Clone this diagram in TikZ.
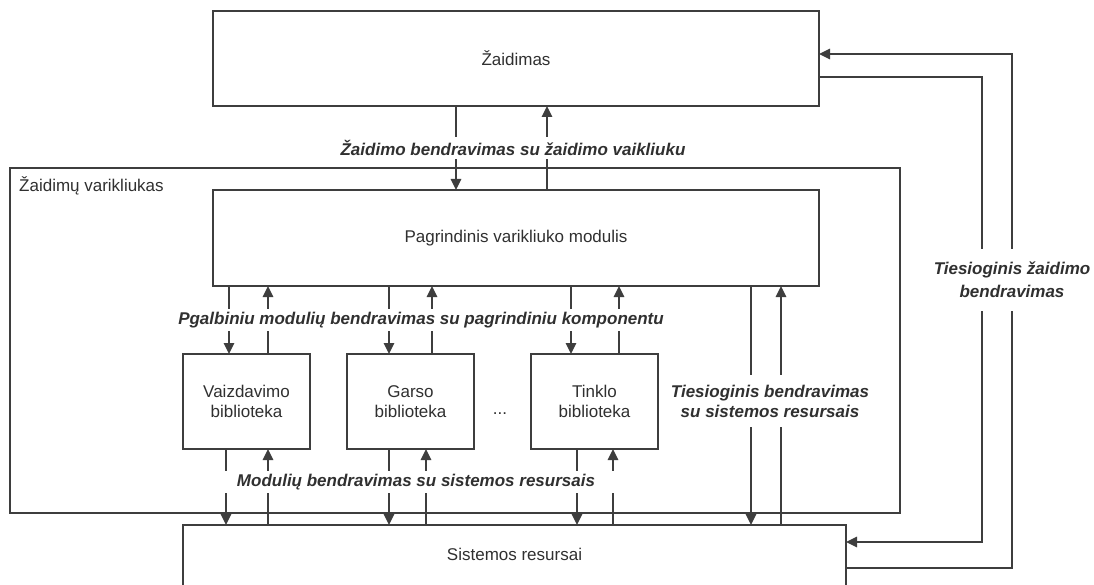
\documentclass[tikz,border=0pt]{standalone}
\usepackage{fontspec}
\setmainfont{Liberation Sans}
\usetikzlibrary{arrows.meta}
\definecolor{ink}{HTML}{3E3E3E}
\definecolor{txt}{HTML}{303030}
\begin{document}
\begin{tikzpicture}[x=1pt,y=-1pt,
  every node/.style={font=\fontsize{17}{20}\selectfont, text=txt},
  box/.style={draw=ink, line width=1.5pt, fill=white, outer sep=0pt, inner sep=0pt, align=center},
  link/.style={draw=ink, line width=1.5pt},
  arr/.style={link, -{Triangle[length=11pt,width=10.5pt]}},
  tag/.style={font=\fontsize{17}{20}\selectfont\bfseries\itshape, fill=white,
              inner xsep=20pt, inner ysep=3pt, align=center}
]
\useasboundingbox (0,0) rectangle (1094,585);
\fill[white] (0,0) rectangle (1094,585);
\begin{scope}
\clip (0,0) rectangle (1094,585);

% engine frame and its title
\node[box, minimum width=890pt, minimum height=345pt] (engine) at (455,340.5) {};
\node[anchor=base west, inner sep=0pt] (enginetitle) at (19,192) {Žaidimų varikliukas};

% blocks
\node[box, minimum width=606pt, minimum height=95pt] (game) at (516,58.5) {Žaidimas};
\node[box, minimum width=606pt, minimum height=96pt] (core) at (516,238) {Pagrindinis varikliuko modulis};
\node[box, minimum width=127pt, minimum height=95pt] (gfx) at (246.5,401.5) {Vaizdavimo\\biblioteka};
\node[box, minimum width=127pt, minimum height=95pt] (snd) at (410.5,401.5) {Garso\\biblioteka};
\node[box, minimum width=127pt, minimum height=95pt] (net) at (594.5,401.5) {Tinklo\\biblioteka};
\node (dots) at (500,414) {...};
\node[box, minimum width=663pt, minimum height=80pt] (sys) at (514.5,565) {};
\node (systxt) at (514.5,554) {Sistemos resursai};

% game <-> core
\draw[arr] (game.south -| 456,0) -- (core.north -| 456,0);
\draw[arr] (core.north -| 547,0) -- (game.south -| 547,0);

% core <-> libraries
\draw[arr] (core.south -| 229,0) -- (gfx.north -| 229,0);
\draw[arr] (gfx.north -| 268,0) -- (core.south -| 268,0);
\draw[arr] (core.south -| 389,0) -- (snd.north -| 389,0);
\draw[arr] (snd.north -| 432,0) -- (core.south -| 432,0);
\draw[arr] (core.south -| 571,0) -- (net.north -| 571,0);
\draw[arr] (net.north -| 619,0) -- (core.south -| 619,0);

% libraries <-> system resources
\draw[arr] (gfx.south -| 226,0) -- (sys.north -| 226,0);
\draw[arr] (sys.north -| 268,0) -- (gfx.south -| 268,0);
\draw[arr] (snd.south -| 389,0) -- (sys.north -| 389,0);
\draw[arr] (sys.north -| 426,0) -- (snd.south -| 426,0);
\draw[arr] (net.south -| 577,0) -- (sys.north -| 577,0);
\draw[arr] (sys.north -| 613,0) -- (net.south -| 613,0);

% core <-> system resources
\draw[arr] (core.south -| 751,0) -- (sys.north -| 751,0);
\draw[arr] (sys.north -| 781,0) -- (core.south -| 781,0);

% game <-> system resources, outside the engine
\draw[arr] (game.east |- 0,77) -- (982,77) -- (982,542) -- (sys.east |- 0,542);
\draw[arr] (sys.east |- 0,568) -- (1012,568) -- (1012,54) -- (game.east |- 0,54);

% connector captions
\node[tag] (capgame) at (513,148) {Žaidimo bendravimas su žaidimo vaikliuku};
\node[tag] (capcore) at (421,320) {Pgalbiniu modulių bendravimas su pagrindiniu komponentu};
\node[tag] (capsys) at (416,482) {Modulių bendravimas su sistemos resursais};
\node[tag, inner xsep=8pt, inner ysep=10pt] (capdirect) at (770,401) {Tiesioginis bendravimas\\su sistemos resursais};
\node[tag, font=\fontsize{17}{23}\selectfont\bfseries\itshape, inner xsep=8pt, inner ysep=13pt] (capgamedirect) at (1012,280) {Tiesioginis žaidimo\\bendravimas};
\end{scope}
\end{tikzpicture}
\end{document}
